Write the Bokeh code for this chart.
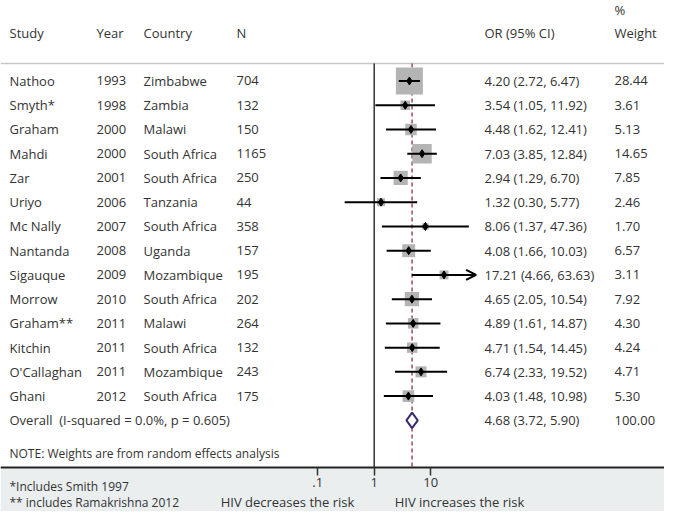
from bokeh.plotting import figure
from bokeh.models import (Range1d, LinearScale, LogAxis, FixedTicker, CustomJSTickFormatter,
                          Arrow, OpenHead, ColumnDataSource, BoxAnnotation)
from bokeh.core.properties import value
from bokeh.embed import file_html
from bokeh.resources import INLINE

# ---------------- data ----------------
studies = ["Nathoo", "Smyth*", "Graham", "Mahdi", "Zar", "Uriyo", "Mc Nally", "Nantanda",
           "Sigauque", "Morrow", "Graham**", "Kitchin", "O'Callaghan", "Ghani"]
years = [1993, 1998, 2000, 2000, 2001, 2006, 2007, 2008, 2009, 2010, 2011, 2011, 2011, 2012]
countries = ["Zimbabwe", "Zambia", "Malawi", "South Africa", "South Africa", "Tanzania",
             "South Africa", "Uganda", "Mozambique", "South Africa", "Malawi", "South Africa",
             "Mozambique", "South Africa"]
n_sizes = [704, 132, 150, 1165, 250, 44, 358, 157, 195, 202, 264, 132, 243, 175]
odds_ratio = [4.20, 3.54, 4.48, 7.03, 2.94, 1.32, 8.06, 4.08, 17.21, 4.65, 4.89, 4.71, 6.74, 4.03]
ci_low = [2.72, 1.05, 1.62, 3.85, 1.29, 0.30, 1.37, 1.66, 4.66, 2.05, 1.61, 1.54, 2.33, 1.48]
ci_high = [6.47, 11.92, 12.41, 12.84, 6.70, 5.77, 47.36, 10.03, 63.63, 10.54, 14.87, 14.45, 19.52, 10.98]
weights = [28.44, 3.61, 5.13, 14.65, 7.85, 2.46, 1.70, 6.57, 3.11, 7.92, 4.30, 4.24, 4.71, 5.30]
overall_or, overall_lo, overall_hi, overall_w = 4.68, 3.72, 5.90, 100.00
overall_label = "Overall\u00a0 (I-squared = 0.0%, p = 0.605)"
null_or = 1
tick_values = [0.1, 1, 10]
header_texts = ["Study", "Year", "Country", "N", "OR (95% CI)", "Weight", "%"]
note_text = "NOTE: Weights are from random effects analysis"
footnotes = ["*Includes Smith 1997", "** includes Ramakrishna 2012"]
side_labels = ["HIV decreases the risk", "HIV increases the risk"]

# ---------------- layout (reference-pixel coordinates) ----------------
W, H = 664, 511
X_NULL, DECADE = 373.7, 56.5           # position of OR = 1 and pixels per decade
def lx(ref_px):
    return 10 ** ((ref_px - X_NULL) / DECADE)

TOP_ROW, ROW_H = 83, 25
row_y = [TOP_ROW + ROW_H * i for i in range(len(studies))]
overall_y = TOP_ROW + ROW_H * len(studies)
HEADER_LINE_Y, AXIS_Y, BOTTOM = 65, 482, 527

FONT = value("Open Sans")
FS = "13px"
FS_SMALL = "12px"
TC = "#333333"

p = figure(width=W, height=H, output_backend="svg", toolbar_location=None,
           x_axis_type="log", x_axis_location=None, y_axis_location=None,
           x_range=Range1d(lx(0), lx(W)), y_range=Range1d(BOTTOM, 0),
           min_border=0, min_border_left=0, min_border_right=0, min_border_top=0,
           min_border_bottom=0, outline_line_color=None,
           background_fill_color="white", border_fill_color="white")
p.extra_x_ranges = {"px": Range1d(0, W)}
p.extra_x_scales = {"px": LinearScale()}
p.xgrid.grid_line_color = None
p.ygrid.grid_line_color = None

# grey band below the axis
p.add_layout(BoxAnnotation(top=AXIS_Y, bottom=BOTTOM, fill_color="#eaeeef", fill_alpha=1,
                           line_color=None, level="underlay"))

axis = LogAxis(ticker=FixedTicker(ticks=tick_values), fixed_location=AXIS_Y,
               formatter=CustomJSTickFormatter(code="return tick < 0.5 ? '.1' : tick.toFixed(0);"))
axis.axis_line_color = "#222222"
axis.axis_line_width = 2
axis.major_tick_in = 0
axis.major_tick_out = 8
axis.major_tick_line_color = "#333333"
axis.major_tick_line_width = 1.5
axis.minor_tick_line_color = None
axis.major_label_text_font = "Open Sans"
axis.major_label_text_font_size = FS
axis.major_label_text_color = TC
axis.major_label_standoff = 2
p.add_layout(axis, "below")

# header line and reference lines
p.segment(x0=0, x1=W, y0=HEADER_LINE_Y, y1=HEADER_LINE_Y, x_range_name="px",
          line_color="#c6c6c6", line_width=1.5)
p.segment(x0=null_or, x1=null_or, y0=HEADER_LINE_Y, y1=AXIS_Y, line_color="#333333", line_width=1.5)
p.segment(x0=overall_or, x1=overall_or, y0=HEADER_LINE_Y, y1=AXIS_Y, line_color="#9c4a62",
          line_width=1.5, line_dash="4 3")

# study marks
max_w = max(weights)
src = ColumnDataSource(dict(
    y=row_y, study=studies, year=[str(v) for v in years], country=countries,
    n=[str(v) for v in n_sizes], orv=odds_ratio, lo=ci_low, hi=ci_high,
    ci=[f"{o:.2f} ({l:.2f}, {h:.2f})" for o, l, h in zip(odds_ratio, ci_low, ci_high)],
    wt=[f"{w:.2f}" for w in weights],
    box=[27.0 * (w / max_w) ** 0.5 for w in weights],
))
p.rect(x="orv", y="y", width="box", height="box", width_units="screen", height_units="screen",
       source=src, fill_color="#b4b4b4", line_color=None)
arrow_idx = [i for i, h in enumerate(ci_high) if h >= 60]
normal_idx = [i for i in range(len(studies)) if i not in arrow_idx]
p.segment(x0=[ci_low[i] for i in normal_idx], x1=[ci_high[i] for i in normal_idx],
          y0=[row_y[i] for i in normal_idx], y1=[row_y[i] for i in normal_idx],
          line_color="black", line_width=2)
for i in arrow_idx:
    p.add_layout(Arrow(x_start=ci_low[i], x_end=ci_high[i], y_start=row_y[i], y_end=row_y[i],
                       line_color="black", line_width=2,
                       end=OpenHead(size=10, line_color="black", line_width=2)))
p.scatter(x="orv", y="y", source=src, marker="diamond", size=8, color="black")

# overall diamond
d_h = 8
p.patch(x=[overall_lo, overall_or, overall_hi, overall_or],
        y=[overall_y, overall_y - d_h, overall_y, overall_y + d_h],
        fill_color="white", line_color="#3b2a6b", line_width=2)

# table text
def col(x, field):
    p.text(x=x, y="y", text=field, source=src, x_range_name="px", text_font=FONT,
           text_font_size=FS, text_color=TC, text_baseline="middle", text_align="left")

COLS = [9, 96, 143, 236, 484, 614]
for x, f in zip(COLS, ["study", "year", "country", "n", "ci", "wt"]):
    col(x, f)

headers = dict(x=COLS + [614], y=[34] * 6 + [10], t=header_texts)
p.text(x="x", y="y", text="t", source=ColumnDataSource(headers), x_range_name="px",
       text_font=FONT, text_font_size=FS, text_color=TC, text_baseline="middle")

p.text(x=[9, 484, 614], y=[overall_y] * 3,
       text=[overall_label, f"{overall_or:.2f} ({overall_lo:.2f}, {overall_hi:.2f})", f"{overall_w:.2f}"],
       x_range_name="px", text_font=FONT, text_font_size=FS, text_color=TC, text_baseline="middle")
p.text(x=[9], y=[467], text=[note_text], x_range_name="px", text_font=FONT, text_font_size=FS_SMALL,
       text_color=TC, text_baseline="middle")

# texts in the grey band
p.text(x=[9, 9], y=[501, 518], text=footnotes, x_range_name="px", text_font=FONT,
       text_font_size=FS_SMALL, text_color=TC, text_baseline="middle", text_align="left")
p.text(x=[287, 459], y=[517, 517], text=side_labels, x_range_name="px", text_font=FONT,
       text_font_size=FS, text_color=TC, text_baseline="middle", text_align="center")

open("out.html", "w").write(file_html(p, INLINE))
